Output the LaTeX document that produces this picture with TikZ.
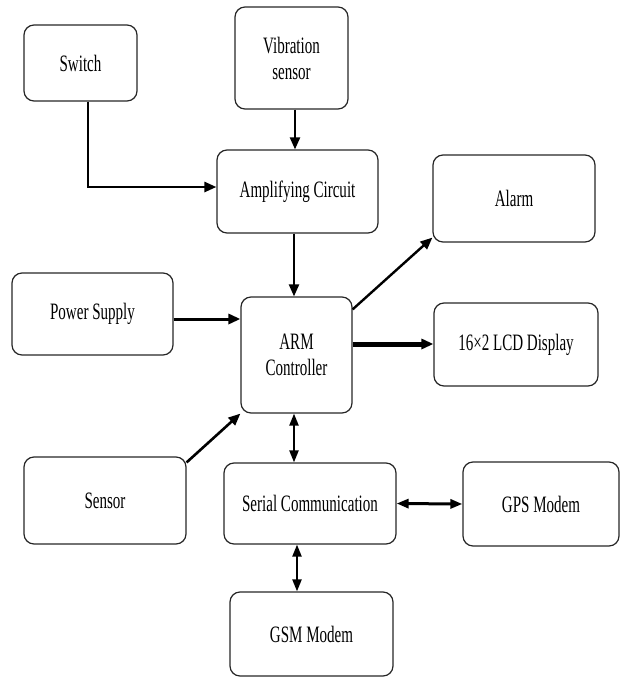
\documentclass[tikz,border=0pt]{standalone}
\usepackage{fontspec}
\setmainfont[FakeStretch=0.64]{Liberation Serif}
\usetikzlibrary{arrows.meta}
\begin{document}
\begin{tikzpicture}[x=1pt,y=-1pt,
  blk/.style={draw=black!85,line width=1.2pt,rounded corners=10pt,align=center,
    inner sep=0pt,font=\fontsize{23.5}{26}\selectfont},
  arr/.style={line width=2.2pt,-{Triangle[length=12pt,width=10pt]}},
  darr/.style={line width=2.2pt,{Triangle[length=12pt,width=9pt]}-{Triangle[length=12pt,width=9pt]}}]
\useasboundingbox (0,0) rectangle (621,677);
\node[blk,minimum width=113pt,minimum height=76pt] (sw) at (80.5,63) {Switch};
\node[blk,minimum width=113pt,minimum height=102pt] (vib) at (291.5,58) {Vibration\\sensor};
\node[blk,minimum width=161pt,minimum height=83pt] (amp) at (297.5,191.5) {Amplifying Circuit};
\node[blk,minimum width=162pt,minimum height=87pt] (alarm) at (514,198.5) {Alarm};
\node[blk,minimum width=161pt,minimum height=82pt] (ps) at (92.5,314) {Power Supply};
\node[blk,minimum width=111pt,minimum height=116pt] (arm) at (296.5,355) {ARM\\Controller};
\node[blk,minimum width=164pt,minimum height=83pt] (lcd) at (516,344.5) {16×2 LCD Display};
\node[blk,minimum width=162pt,minimum height=87pt] (sensor) at (105,500.5) {Sensor};
\node[blk,minimum width=172pt,minimum height=81pt] (serial) at (310,503.5) {Serial Communication};
\node[blk,minimum width=156pt,minimum height=84pt] (gps) at (541,504) {GPS Modem};
\node[blk,minimum width=163pt,minimum height=84pt] (gsm) at (311.5,634) {GSM Modem};
% connectors
\draw[arr,line width=2.6pt] ([xshift=7.5pt]sw.south) |- ([yshift=4.5pt]amp.west);
\draw[arr] ([xshift=3.5pt]vib.south) -- ([xshift=-2.5pt]amp.north);
\draw[arr] ([xshift=-3.5pt]amp.south) -- ([xshift=-2.5pt]arm.north);
\draw[arr,line width=3pt] ([yshift=-5pt]ps.east) -- ([yshift=36pt]arm.west);
\draw[arr,line width=2.4pt] ([yshift=-13pt]arm.north east) -- ([yshift=5pt]alarm.south west);
\draw[arr,line width=5pt] ([yshift=11pt]arm.east) -- ([yshift=0.5pt]lcd.west);
\draw[arr,line width=2.6pt] ([yshift=-6pt]sensor.north east) -- (arm.south west);
\draw[darr] ([xshift=-2.5pt]arm.south) -- ([xshift=-16pt]serial.north);
\draw[darr,line width=3pt] (serial.east) -- (gps.west);
\draw[darr] ([xshift=-13pt]serial.south) -- ([xshift=-14.5pt]gsm.north);
\end{tikzpicture}
\end{document}
